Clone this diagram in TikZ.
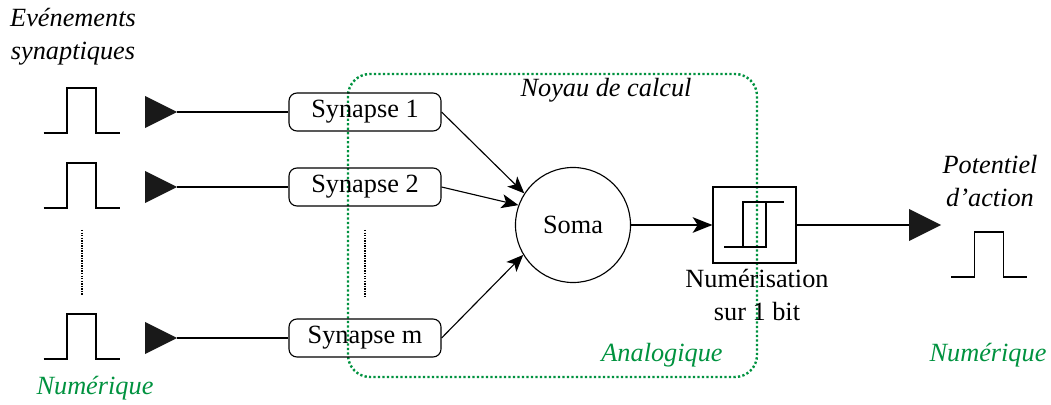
\documentclass[tikz,border=0pt]{standalone}
\usepackage{fontspec}
\setmainfont{Liberation Serif}
\usetikzlibrary{shapes.geometric,arrows.meta,positioning}
\definecolor{zonegreen}{RGB}{0,146,63}
\tikzset{
    pulse/.pic={\draw (-38,0) -- (-14.5,0) -- (-14.5,-45) -- (14.5,-45) -- (14.5,0) -- (38,0);},
    synbox/.style={draw, rounded corners=0.2cm, minimum width=3.8cm, minimum height=0.95cm},
    spike/.style={isosceles triangle, isosceles triangle stretches, fill=black!90,
        minimum width=0.8cm, minimum height=0.8cm, inner sep=0pt, outer sep=0pt, anchor=west},
    feed/.style={-{Stealth[length=12pt, width=10pt, inset=3pt]}},
    zonetag/.style={text=zonegreen, font=\fontsize{18.7}{23.5}\selectfont\itshape},
    vdots/.style={dash pattern=on 1pt off 0.8pt, line width=1.1pt}
}

\begin{document}
\begin{tikzpicture}[x=0.025cm, y=-0.025cm, line width=0.8pt,
    font=\fontsize{18.7}{23.5}\selectfont]
    \useasboundingbox (0,0) rectangle (1051,405);

    % Noyau de calcul
    \draw [zonegreen, line width=1.7pt, dash pattern=on 1.6pt off 1.6pt, rounded corners=0.55cm]
        (348,74) rectangle (757,377);
    \node [font=\fontsize{18.7}{23.5}\selectfont\itshape] (core) at (606,90) {Noyau de calcul};

    % Soma
    \node [draw, circle, minimum size=2.875cm] (soma) at (573,225) {Soma};

    % Inputs
    \node [align=center, font=\fontsize{18.7}{23.5}\selectfont\itshape] (events) at (73,37)
        {Evénements\\synaptiques};
    \foreach \y/\n/\a in {112/1/147, 187/2/160, 338/m/211} {
        \pic at (81.5,\y+21) {pulse};
        \node [spike] (in\n) at (145,\y) {};
        \node [synbox] (syn\n) at (365,\y) {Synapse \n};
        \draw (in\n.apex) -- (syn\n.west);
        \draw [feed] (syn\n.east) -- (soma.\a);
    }
    \draw [vdots] (82,230) -- (82,295);
    \draw [vdots] (365,230) -- (365,296);
    \node [zonetag] (numin) at (95,388) {Numérique};

    % Quantizer
    \node [draw, minimum width=2.075cm, minimum height=1.9cm] (quant) at (754.5,225) {};
    \draw ([shift={(-30.5,22)}]quant.center) -- ([shift={(11.5,22)}]quant.center)
        -- ([shift={(11.5,-23)}]quant.center);
    \draw ([shift={(-11.5,22)}]quant.center) -- ([shift={(-11.5,-23)}]quant.center)
        -- ([shift={(29.5,-23)}]quant.center);
    \draw [line width=1.5pt, -{Stealth[length=14pt, width=11pt, inset=3.5pt]}] (soma) -- (quant);
    \node [align=center] (quantlbl) at (757,295) {Numérisation\\sur 1 bit};
    \node [zonetag] (analog) at (662,355) {Analogique};

    % Output
    \node [spike] (out) at (909,225) {};
    \draw (quant.east) -- (out.west);
    \node [align=center, font=\fontsize{18.7}{23.5}\selectfont\itshape] (spk) at (990,181)
        {Potentiel\\d’action};
    \pic at (989,277) {pulse};
    \node [zonetag] (numout) at (988,355) {Numérique};
\end{tikzpicture}
\end{document}
